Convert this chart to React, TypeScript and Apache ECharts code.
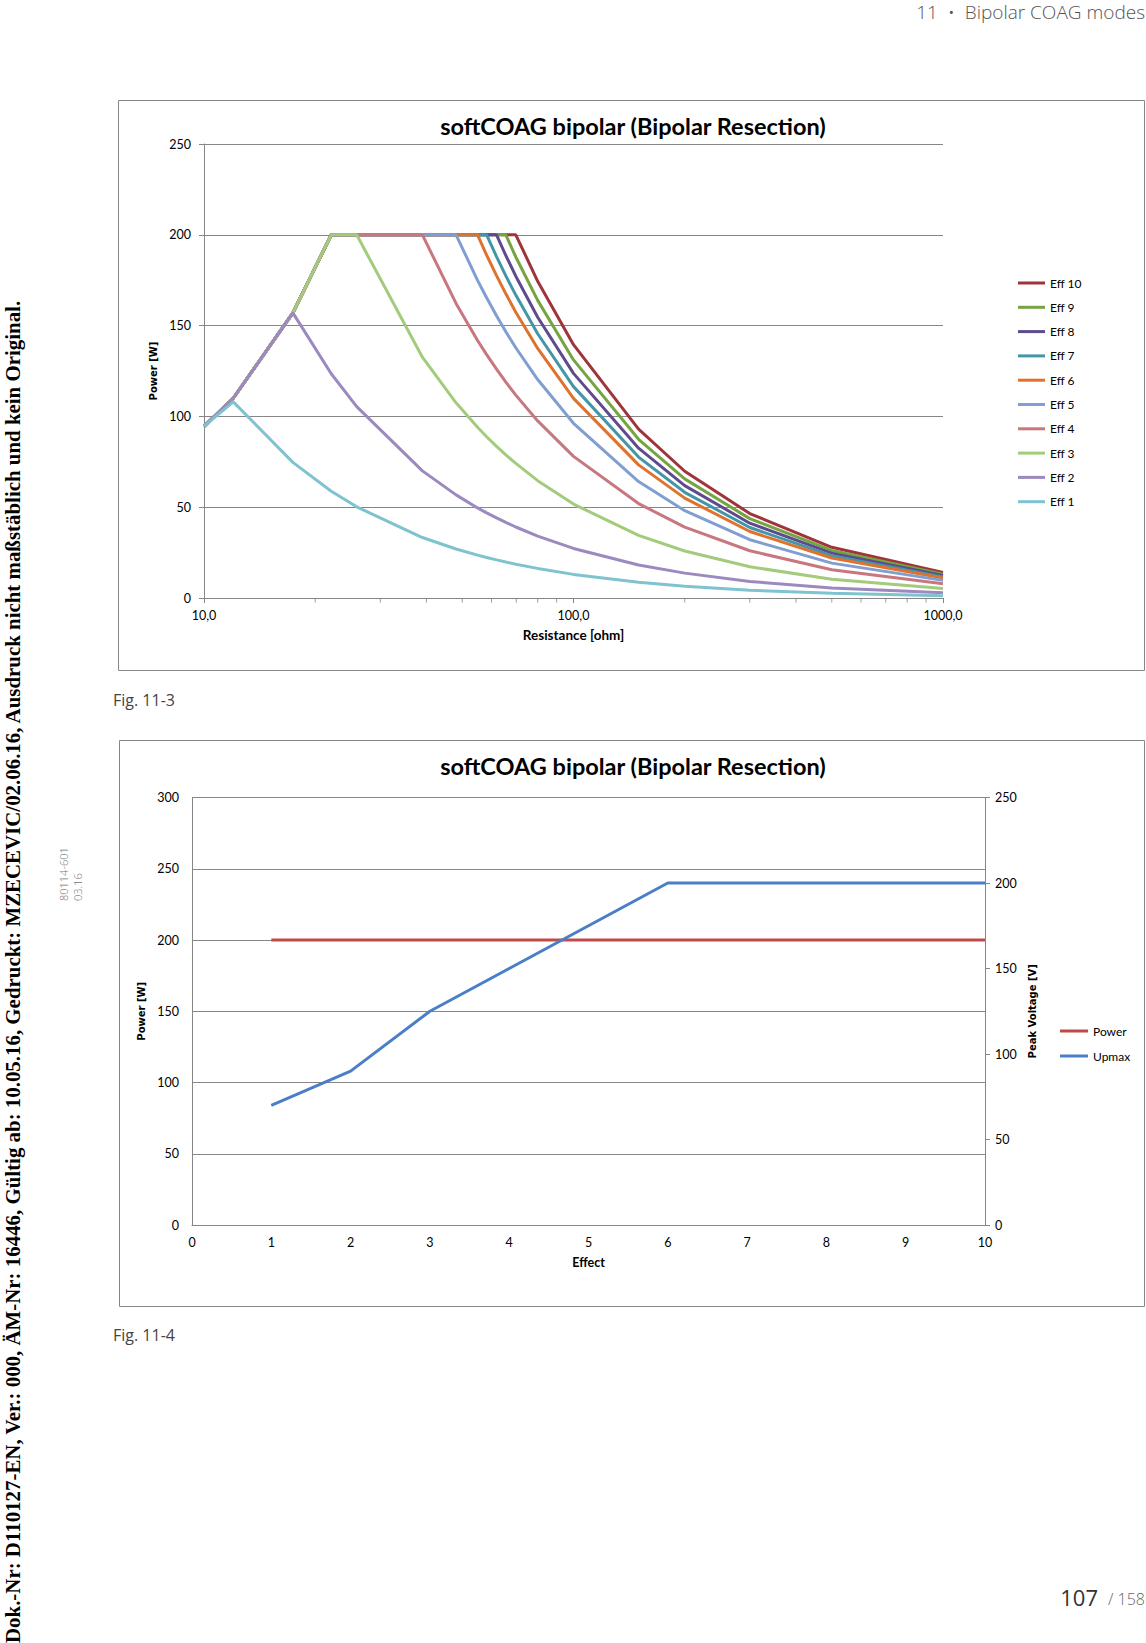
import React, { useEffect, useRef } from "react";
import * as echarts from "echarts";

// ---------- Data ----------
const resistance = [10, 12, 17.4, 22.1, 25.9, 39, 48.1, 55, 58.2, 61.9, 65.6, 69.8, 80, 100, 150, 200, 300, 500, 1000];

const eff1 = [94.5, 108, 74.7, 58.8, 50.2, 33.3, 27.0, 23.6, 22.3, 21.0, 19.8, 18.6, 16.3, 13.0, 8.7, 6.5, 4.3, 2.6, 1.3];
const eff2 = [94.5, 110, 157, 123.5, 105.4, 70.0, 56.8, 49.6, 46.9, 44.1, 41.6, 39.1, 34.1, 27.3, 18.2, 13.7, 9.1, 5.5, 2.9];
const eff3 = [94.5, 110, 157, 200, 200, 132.6, 107.5, 94.0, 88.8, 83.5, 78.8, 74.1, 64.6, 51.7, 34.5, 25.9, 17.2, 10.3, 5.2];
const eff4 = [94.5, 110, 157, 200, 200, 200, 162.2, 141.8, 134.0, 126.0, 118.9, 111.7, 97.5, 78.0, 52.0, 39.0, 26.0, 15.6, 7.9];
const eff5 = [94.5, 110, 157, 200, 200, 200, 200, 174.9, 165.3, 155.4, 146.6, 137.8, 120.3, 96.2, 64.1, 48.1, 32.1, 19.2, 9.7];
const eff6 = [94.5, 110, 157, 200, 200, 200, 200, 200, 188.8, 177.5, 167.5, 157.4, 137.4, 109.9, 73.3, 55.0, 36.6, 22.0, 11.0];
const eff7 = [94.5, 110, 157, 200, 200, 200, 200, 200, 200, 188.0, 177.4, 166.8, 145.5, 116.4, 77.6, 58.2, 38.8, 23.3, 11.6];
const eff8 = [94.5, 110, 157, 200, 200, 200, 200, 200, 200, 200, 188.6, 177.2, 154.6, 123.7, 82.5, 61.9, 41.2, 24.7, 12.4];
const eff9 = [94.5, 110, 157, 200, 200, 200, 200, 200, 200, 200, 200, 187.8, 163.9, 131.1, 87.4, 65.6, 43.7, 26.2, 13.1];
const eff10 = [94.5, 110, 157, 200, 200, 200, 200, 200, 200, 200, 200, 200, 174.4, 139.5, 93.0, 69.8, 46.5, 27.9, 14.0];

// drawing order (Excel series order): Eff 10 first ... Eff 1 last
const effNames = ["Eff 10", "Eff 9", "Eff 8", "Eff 7", "Eff 6", "Eff 5", "Eff 4", "Eff 3", "Eff 2", "Eff 1"];
const effValues = [eff10, eff9, eff8, eff7, eff6, eff5, eff4, eff3, eff2, eff1];
const effColors = ["#A0343B", "#75A440", "#5E4A8E", "#4296A8", "#DE722E", "#809ED2", "#C8767F", "#A2CB7C", "#9B89BF", "#7EC3CF"];

const logMinorTicks = [20, 30, 40, 50, 60, 70, 80, 90, 200, 300, 400, 500, 600, 700, 800, 900];

const effects = [1, 2, 3, 4, 5, 6, 7, 8, 9, 10];
const powerW = [200, 200, 200, 200, 200, 200, 200, 200, 200, 200];
const upmaxV = [70, 90, 125, 150, 175, 200, 200, 200, 200, 200];

const chartTitle = "softCOAG bipolar (Bipolar Resection)";
const sideNote =
  "Dok.-Nr: D110127-EN, Ver.: 000, ÄM-Nr: 16446, Gültig ab: 10.05.16, Gedruckt: MZECEVIC/02.06.16, Ausdruck nicht maßstäblich und kein Original.";

const GRAY = "#868686";

export default function App() {
  const ref = useRef<HTMLDivElement>(null);

  useEffect(() => {
    if (!ref.current) return;
    const chart = echarts.init(ref.current, null, { renderer: "svg" });

    const effSeries = effNames.map((name, k) => ({
      name,
      type: "line",
      xAxisIndex: 0,
      yAxisIndex: 0,
      data: resistance.map((r, i) => [r, effValues[k][i]]),
      symbol: "none",
      showSymbol: false,
      lineStyle: { color: effColors[k], width: 3 },
      itemStyle: { color: effColors[k] },
      z: 2 + k,
    }));

    const option: any = {
      animation: false,
      backgroundColor: "#ffffff",
      textStyle: { fontFamily: "Lato", color: "#000" },
      grid: [
        { left: 204, top: 144, width: 739, height: 454 },
        { left: 192, top: 797.5, width: 793, height: 427.5 },
      ],
      xAxis: [
        {
          type: "log",
          logBase: 10,
          gridIndex: 0,
          min: 10,
          max: 1000,
          axisLine: { show: true, onZero: false, lineStyle: { color: GRAY, width: 1 } },
          axisTick: { show: true, length: 5, lineStyle: { color: GRAY } },
          axisLabel: {
            margin: 11,
            fontSize: 12.5,
            color: "#000",
            fontFamily: "Lato",
            formatter: (v: number) => v.toFixed(1).replace(".", ","),
          },
          splitLine: { show: false },
          name: "Resistance [ohm]",
          nameLocation: "middle",
          nameGap: 30,
          nameTextStyle: { fontWeight: "bold", fontSize: 13.5, color: "#000", fontFamily: "Lato" },
        },
        {
          type: "value",
          gridIndex: 1,
          min: 0,
          max: 10,
          interval: 1,
          axisLine: { show: true, onZero: false, lineStyle: { color: GRAY, width: 1 } },
          axisTick: { show: false },
          axisLabel: { margin: 11, fontSize: 12.5, color: "#000", fontFamily: "Lato" },
          splitLine: { show: false },
          name: "Effect",
          nameLocation: "middle",
          nameGap: 31,
          nameTextStyle: { fontWeight: "bold", fontSize: 12.5, color: "#000", fontFamily: "Lato" },
        },
      ],
      yAxis: [
        {
          type: "value",
          gridIndex: 0,
          min: 0,
          max: 250,
          interval: 50,
          axisLine: { show: true, onZero: false, lineStyle: { color: GRAY, width: 1 } },
          axisTick: { show: true, length: 5, lineStyle: { color: GRAY } },
          axisLabel: { margin: 13, fontSize: 12.5, color: "#000", fontFamily: "Lato" },
          splitLine: { show: true, lineStyle: { color: GRAY, width: 1 } },
          name: "Power [W]",
          nameLocation: "middle",
          nameGap: 38,
          nameRotate: 90,
          nameTextStyle: { fontWeight: "bold", fontSize: 10, color: "#000", fontFamily: "DejaVu Sans" },
        },
        {
          type: "value",
          gridIndex: 1,
          position: "left",
          min: 0,
          max: 300,
          interval: 50,
          axisLine: { show: true, onZero: false, lineStyle: { color: GRAY, width: 1 } },
          axisTick: { show: false },
          axisLabel: { margin: 13, fontSize: 12.5, color: "#000", fontFamily: "Lato" },
          splitLine: { show: true, lineStyle: { color: GRAY, width: 1 } },
          name: "Power [W]",
          nameLocation: "middle",
          nameGap: 37,
          nameRotate: 90,
          nameTextStyle: { fontWeight: "bold", fontSize: 10, color: "#000", fontFamily: "DejaVu Sans" },
        },
        {
          type: "value",
          gridIndex: 1,
          position: "right",
          min: 0,
          max: 250,
          interval: 50,
          axisLine: { show: true, onZero: false, lineStyle: { color: GRAY, width: 1 } },
          axisTick: { show: true, length: 5, lineStyle: { color: GRAY } },
          axisLabel: { margin: 10, fontSize: 12.5, color: "#000", fontFamily: "Lato" },
          splitLine: { show: false },
          name: "Peak Voltage [V]",
          nameLocation: "middle",
          nameGap: 38,
          nameRotate: 90,
          nameTextStyle: { fontWeight: "bold", fontSize: 10, color: "#000", fontFamily: "DejaVu Sans" },
        },
      ],
      legend: [
        {
          data: effNames,
          orient: "vertical",
          left: 1018,
          top: 276,
          padding: 0,
          itemWidth: 27,
          itemHeight: 3,
          itemGap: 10.3,
          icon: "rect",
          selectedMode: false,
          textStyle: { fontSize: 12, lineHeight: 14, color: "#000", fontFamily: "Lato" },
        },
        {
          data: ["Power", "Upmax"],
          orient: "vertical",
          left: 1060,
          top: 1024,
          padding: 0,
          itemWidth: 28,
          itemHeight: 3,
          itemGap: 11,
          icon: "rect",
          selectedMode: false,
          textStyle: { fontSize: 12, lineHeight: 14, color: "#000", fontFamily: "Lato" },
        },
      ],
      series: [
        ...effSeries,
        {
          name: "minor ticks",
          type: "scatter",
          xAxisIndex: 0,
          yAxisIndex: 0,
          data: logMinorTicks.map((v) => [v, 0]),
          symbol: "rect",
          symbolSize: [1, 4],
          symbolOffset: [0, 2.5],
          itemStyle: { color: GRAY },
          silent: true,
          clip: false,
          z: 1,
        },
        {
          name: "Power",
          type: "line",
          xAxisIndex: 1,
          yAxisIndex: 1,
          data: effects.map((e, i) => [e, powerW[i]]),
          symbol: "none",
          showSymbol: false,
          lineStyle: { color: "#BE4B48", width: 3 },
          itemStyle: { color: "#BE4B48" },
          z: 3,
        },
        {
          name: "Upmax",
          type: "line",
          xAxisIndex: 1,
          yAxisIndex: 2,
          data: effects.map((e, i) => [e, upmaxV[i]]),
          symbol: "none",
          showSymbol: false,
          lineStyle: { color: "#4A7EC8", width: 3 },
          itemStyle: { color: "#4A7EC8" },
          z: 4,
        },
      ],
      graphic: [
        {
          type: "rect",
          silent: true,
          shape: { x: 118.5, y: 100.5, width: 1026, height: 570 },
          style: { fill: "none", stroke: GRAY, lineWidth: 1 },
        },
        {
          type: "rect",
          silent: true,
          shape: { x: 119.5, y: 740.5, width: 1025, height: 566 },
          style: { fill: "none", stroke: GRAY, lineWidth: 1 },
        },
        {
          type: "text",
          x: 633,
          y: 126,
          style: { text: chartTitle, fontFamily: "Lato", fontWeight: "bold", fontSize: 23.5, fill: "#000", align: "center", verticalAlign: "middle" },
        },
        {
          type: "text",
          x: 633,
          y: 766,
          style: { text: chartTitle, fontFamily: "Lato", fontWeight: "bold", fontSize: 23.5, fill: "#000", align: "center", verticalAlign: "middle" },
        },
        {
          type: "text",
          x: 1145,
          y: 2,
          style: { text: "11  •  Bipolar COAG modes", fontFamily: "Open Sans", fontWeight: 300, fontSize: 19, fill: "#555", align: "right", verticalAlign: "top" },
        },
        {
          type: "text",
          x: 113,
          y: 700,
          style: { text: "Fig. 11-3", fontFamily: "Open Sans", fontWeight: 400, fontSize: 16, fill: "#444", align: "left", verticalAlign: "middle" },
        },
        {
          type: "text",
          x: 113,
          y: 1335,
          style: { text: "Fig. 11-4", fontFamily: "Open Sans", fontWeight: 400, fontSize: 16, fill: "#444", align: "left", verticalAlign: "middle" },
        },
        {
          type: "text",
          x: 1098,
          y: 1597,
          style: { text: "107", fontFamily: "Open Sans", fontWeight: 400, fontSize: 22, fill: "#333", align: "right", verticalAlign: "middle" },
        },
        {
          type: "text",
          x: 1145,
          y: 1599,
          style: { text: "/ 158", fontFamily: "Open Sans", fontWeight: 300, fontSize: 16, fill: "#666", align: "right", verticalAlign: "middle" },
        },
        {
          type: "text",
          x: 13,
          y: 1643,
          rotation: Math.PI / 2,
          style: { text: sideNote, fontFamily: "Liberation Serif", fontWeight: "bold", fontSize: 20.9, fill: "#000", align: "left", verticalAlign: "middle" },
        },
        {
          type: "text",
          x: 63,
          y: 901,
          rotation: Math.PI / 2,
          style: { text: "80114-601", fontFamily: "Open Sans", fontWeight: 300, fontSize: 11, fill: "#777", align: "left", verticalAlign: "middle" },
        },
        {
          type: "text",
          x: 77,
          y: 901,
          rotation: Math.PI / 2,
          style: { text: "03.16", fontFamily: "Open Sans", fontWeight: 300, fontSize: 11, fill: "#777", align: "left", verticalAlign: "middle" },
        },
      ],
    };

    chart.setOption(option);
    return () => chart.dispose();
  }, []);

  return (
    <div
      ref={ref}
      style={{ position: "absolute", left: 0, top: 0, width: 1146, height: 1643, background: "#fff" }}
    />
  );
}
